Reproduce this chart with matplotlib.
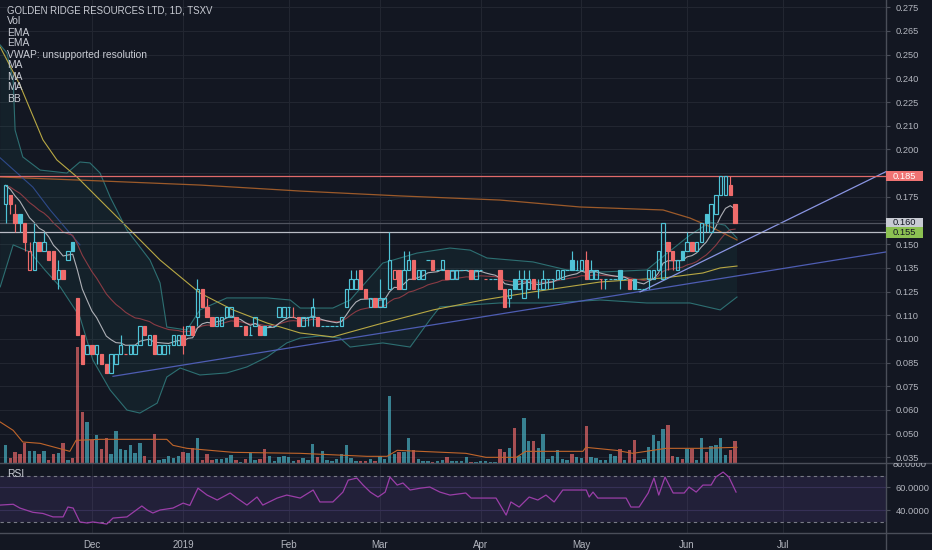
import numpy as np
import pandas as pd
import matplotlib
matplotlib.use("Agg")
import matplotlib.pyplot as plt
from matplotlib.colors import to_rgba
from matplotlib.lines import Line2D
from matplotlib.patches import Rectangle
from matplotlib.transforms import Bbox, TransformedBbox, blended_transform_factory

plt.rcParams["font.family"] = ["Liberation Sans", "DejaVu Sans"]

# daily bars, index 0 = 7 Nov 2018 (TSXV session days)
opens = [
    .170, .175, .165, .165, .160, .135, .135, .150, .145, .145,
    .145, .130, .135, .140, .150, .120, .100, .090, .095, .090,
    .090, .085, .080, .085, .090, .090, .090, .090, .095, .105,
    .095, .100, .090, .090, .095, .095, .095, .100, .100, .105,
    .110, .125, .115, .110, .105, .105, .110, .110, .110, .105,
    .105, .100, .105, .105, .105, .105, .105, .110, .110, .115,
    .110, .110, .105, .110, .110, .110, .105, .105, .105, .105,
    .105, .115, .125, .125, .135, .125, .115, .120, .115, .115,
    .125, .130, .135, .125, .135, .140, .130, .130, .140, .140,
    .135, .135, .135, .130, .130, .135, .135, .135, .130, .135,
    .130, .130, .130, .135, .125, .120, .130, .125, .120, .125,
    .130, .125, .125, .130, .130, .130, .130, .135, .140, .135,
    .135, .140, .130, .130, .130, .130, .130, .130, .135, .130,
    .130, .130, .125, .125, .130, .130, .135, .130, .150, .145,
    .135, .145, .145, .150, .145, .150, .165, .155, .165, .175,
    .175, .180, .170,
]
highs = [
    .180, .175, .170, .165, .160, .150, .160, .150, .155, .145,
    .145, .140, .135, .145, .150, .120, .100, .095, .095, .095,
    .090, .085, .090, .090, .100, .090, .095, .095, .105, .105,
    .100, .100, .095, .095, .095, .100, .100, .105, .105, .105,
    .130, .125, .120, .110, .110, .110, .115, .115, .110, .105,
    .105, .105, .110, .105, .105, .105, .105, .115, .115, .115,
    .115, .110, .110, .110, .120, .110, .105, .105, .105, .105,
    .110, .125, .135, .135, .135, .125, .120, .120, .130, .120,
    .155, .135, .135, .145, .145, .140, .135, .135, .140, .140,
    .135, .140, .135, .135, .135, .135, .135, .135, .135, .135,
    .130, .130, .130, .135, .125, .125, .130, .135, .135, .135,
    .130, .130, .135, .130, .130, .135, .135, .135, .145, .140,
    .140, .145, .140, .135, .130, .130, .130, .130, .135, .130,
    .130, .130, .125, .125, .135, .135, .145, .160, .150, .145,
    .140, .145, .155, .150, .150, .160, .165, .170, .175, .185,
    .185, .185, .170,
]
lows = [
    .160, .165, .155, .155, .145, .135, .135, .145, .145, .140,
    .130, .125, .130, .140, .145, .100, .085, .090, .090, .085,
    .085, .080, .080, .085, .090, .090, .090, .090, .095, .100,
    .095, .090, .090, .090, .090, .095, .095, .090, .100, .100,
    .105, .115, .110, .105, .105, .105, .110, .110, .105, .105,
    .100, .100, .105, .100, .100, .105, .105, .110, .110, .110,
    .110, .105, .105, .105, .105, .105, .105, .105, .105, .105,
    .105, .115, .125, .125, .125, .120, .115, .115, .115, .115,
    .125, .130, .125, .125, .135, .130, .130, .130, .140, .135,
    .135, .135, .130, .130, .130, .135, .135, .130, .130, .135,
    .130, .130, .130, .125, .115, .115, .125, .125, .120, .125,
    .125, .120, .125, .125, .125, .130, .130, .135, .135, .135,
    .135, .130, .130, .130, .125, .125, .130, .130, .125, .130,
    .125, .125, .125, .125, .125, .130, .135, .130, .135, .135,
    .135, .140, .145, .145, .145, .150, .155, .155, .165, .175,
    .175, .175, .160,
]
closes = [
    .180, .170, .160, .160, .150, .145, .150, .145, .150, .140,
    .130, .135, .130, .145, .145, .100, .085, .095, .090, .095,
    .085, .080, .090, .090, .095, .090, .095, .095, .105, .100,
    .100, .090, .095, .095, .095, .100, .100, .095, .105, .100,
    .125, .115, .110, .105, .110, .110, .115, .115, .105, .105,
    .100, .100, .110, .100, .100, .105, .105, .115, .115, .115,
    .110, .105, .110, .110, .115, .105, .105, .105, .105, .105,
    .110, .125, .130, .130, .125, .120, .120, .115, .120, .120,
    .140, .135, .125, .135, .140, .130, .135, .135, .140, .135,
    .135, .140, .130, .135, .135, .135, .135, .130, .135, .135,
    .130, .130, .130, .125, .115, .125, .125, .130, .130, .130,
    .125, .125, .130, .130, .130, .135, .135, .135, .135, .135,
    .140, .130, .135, .135, .130, .130, .130, .130, .130, .130,
    .125, .125, .125, .125, .135, .135, .145, .160, .145, .140,
    .140, .140, .150, .145, .150, .160, .160, .170, .175, .185,
    .185, .175, .160,
]
volume = [
    53, 16, 33, 28, 60, 36, 36, 28, 36, 10,
    26, 30, 60, 10, 16, 348, 153, 123, 70, 83,
    43, 76, 28, 96, 43, 38, 55, 30, 60, 20,
    10, 86, 8, 13, 20, 16, 20, 33, 30, 45,
    76, 10, 26, 8, 13, 11, 16, 23, 8, 3,
    13, 31, 8, 13, 43, 20, 5, 18, 21, 18,
    5, 8, 16, 8, 56, 18, 35, 8, 5, 13,
    28, 53, 16, 6, 5, 5, 13, 5, 20, 12,
    200, 28, 32, 32, 76, 38, 13, 6, 6, 3,
    6, 10, 18, 6, 6, 6, 18, 4, 3, 5,
    5, 3, 3, 43, 33, 45, 105, 20, 135, 65,
    65, 45, 86, 13, 20, 38, 13, 10, 26, 18,
    15, 110, 18, 16, 8, 10, 26, 20, 43, 10,
    38, 68, 8, 13, 48, 85, 66, 101, 114, 20,
    18, 11, 43, 41, 10, 75, 33, 50, 55, 76,
    23, 40, 66,
]

# first session of each month (bar index) and the labels
month_pos = [18, 37, 59, 78, 99, 120, 142, 162]
month_labels = ["Dec", "2019", "Feb", "Mar", "Apr", "May", "Jun", "Jul"]

price_tick_labels = ["0.275", "0.265", "0.250", "0.240", "0.225", "0.210", "0.200",
                     "0.185", "0.175", "0.160", "0.150", "0.135", "0.125", "0.110",
                     "0.100", "0.085", "0.075", "0.060", "0.050", "0.035"]

# indicator lines: (bar index, value)
ma_yellow_x = [-1.1, 3.0, 7.8, 10.7, 14.9, 19.7, 26.6, 32.2, 40.5, 47.4, 54.5, 61.4,
               68.2, 71.1, 78.6, 89.1, 99.5, 109.9, 123.9, 130.1, 137.0, 145.3, 148.9, 152.4]
ma_yellow = [.2538, .2336, .2043, .1936, .1845, .1722, .1546, .1402, .1226, .1136, .1066, .1013,
             .0992, .1013, .1066, .1136, .1189, .1232, .1285, .1296, .1306, .1333, .1360, .1370]
ma_brown_x = [-1.1, 19.7, 40.5, 61.4, 82.2, 103.0, 119.7, 137.0, 142.6, 147.4, 152.4]
ma_brown = [.1845, .1824, .1802, .1770, .1744, .1722, .1685, .1669, .1626, .1573, .1509]
ma_blue_x = [-1.1, 5.7, 9.3, 15.5]
ma_blue = [.1947, .1791, .1669, .1483]

bb_up_x = [-1.1, 0.3, 1.6, 2.0, 3.6, 7.2, 12.8, 15.5, 17.6, 19.7, 21.8, 25.3, 30.1, 32.2,
           33.6, 37.8, 40.5, 46.1, 54.5, 59.3, 61.4, 68.2, 71.8, 78.6, 85.7, 92.6, 96.8,
           100.3, 109.9, 117.0, 123.9, 133.6, 137.4, 142.6, 146.8, 149.9, 152.4]
bb_up = [.2549, .2506, .2362, .2095, .1952, .1882, .1866, .1925, .1920, .1866, .1738, .1562,
         .1402, .1280, .1045, .1029, .1136, .1200, .1200, .1189, .1146, .1146, .1189, .1386,
         .1439, .1466, .1455, .1413, .1392, .1349, .1338, .1349, .1429, .1535, .1604, .1588, .1519]
bb_lo_x = [-1.1, 1.6, 5.1, 8.2, 11.4, 15.5, 18.2, 21.8, 25.3, 28.0, 31.6, 33.6, 36.4, 40.5,
           46.1, 50.3, 54.5, 58.6, 61.4, 65.5, 69.7, 71.8, 78.6, 84.3, 88.4, 90.5, 103.0,
           113.4, 123.9, 133.6, 142.6, 148.9, 152.4]
bb_lo = [.1259, .1483, .1445, .1349, .1259, .1099, .0869, .0709, .0602, .0586, .0639, .0778,
         .0826, .0789, .0800, .0832, .0885, .0960, .0986, .0997, .0986, .0938, .0960, .0938,
         .1083, .1152, .1173, .1173, .1189, .1173, .1173, .1136, .1205]

vol_ma_x = [-1.1, 1.6, 3.6, 7.2, 13.4, 14.7, 19.7, 33.6, 34.9, 37.8, 47.4, 61.4, 75.3, 79.5,
            81.6, 95.9, 100.1, 106.4, 108.4, 120.3, 120.9, 127.2, 130.7, 137.6, 144.5, 152.4]
vol_ma = [123, 98, 63, 59, 35, 68, 71, 71, 53, 44, 32, 29, 20, 20,
          38, 29, 17, 17, 35, 35, 47, 38, 29, 44, 44, 47]

rsi_x = [-1.1, 1.6, 3.0, 5.7, 7.8, 9.9, 12.0, 13.0, 14.1, 15.5, 17.0, 18.2, 19.7, 21.1, 22.4,
         25.3, 26.6, 28.4, 29.5, 30.7, 32.2, 34.9, 37.0, 38.4, 40.1, 42.0, 44.1, 46.8, 48.2,
         50.3, 52.4, 53.6, 56.6, 58.6, 61.4, 64.1, 65.5, 68.2, 70.3, 71.4, 73.2, 74.5, 76.0,
         77.6, 79.1, 80.1, 81.6, 82.8, 84.3, 86.4, 88.4, 90.5, 92.6, 95.9, 97.0, 102.2, 104.3,
         105.3, 107.0, 109.1, 110.9, 112.6, 114.3, 116.1, 118.9, 121.0, 121.6, 122.4, 123.4,
         129.3, 130.3, 132.0, 133.9, 135.1, 136.1, 137.4, 139.1, 141.4, 142.4, 143.9, 145.3,
         147.0, 148.0, 149.5, 150.7, 152.2]
rsi = [44.3, 45.0, 41.7, 38.0, 37.0, 34.0, 34.0, 42.6, 41.7, 29.6, 28.7, 29.6, 28.7, 27.8, 33.0,
       34.0, 38.0, 43.5, 40.0, 37.4, 40.0, 41.7, 46.0, 44.0, 59.0, 53.0, 48.7, 54.8, 50.4,
       44.3, 51.3, 44.3, 50.4, 53.0, 50.4, 57.4, 47.0, 47.0, 55.6, 66.0, 67.8, 61.7, 55.6,
       51.3, 55.6, 68.7, 61.7, 63.5, 57.4, 59.0, 60.0, 55.6, 53.0, 54.8, 50.4, 50.4, 35.6,
       47.0, 42.6, 51.3, 48.7, 53.0, 47.0, 57.4, 57.4, 57.4, 51.3, 55.6, 50.4,
       50.4, 42.6, 42.6, 54.8, 67.8, 53.0, 68.7, 54.8, 54.8, 60.0, 55.6, 61.7,
       61.7, 68.7, 73.0, 68.7, 55.6]

# drawn horizontal levels and trend lines
levels = [0.185, 0.160, 0.155]
trend_a = ([22.4, 183.4], [0.0782, 0.1445])
trend_b = ([132.2, 183.4], [0.1232, 0.1873])

BG = "#131722"
GRID = "#222631"
TXT = "#b2b5be"
SEP = "#4a4e59"
UP = "#4fc3d6"
DOWN = "#ef6b6b"

W, H = 932, 550
SCALE_X = 886
Y_LO, Y_HI = 0.03196, 0.27889

fig = plt.figure(figsize=(W / 100, H / 100), dpi=100, facecolor=BG)
main_rect = [0, 87 / H, SCALE_X / W, 463 / H]
rsi_rect = [0, 17 / H, SCALE_X / W, 70 / H]

gax = fig.add_axes(main_rect)
vax = fig.add_axes(main_rect, sharex=gax)
ax = fig.add_axes(main_rect, sharex=gax, sharey=gax)
rax = fig.add_axes(rsi_rect, sharex=gax)
gax.set_zorder(0)
vax.set_zorder(1)
ax.set_zorder(2)
rax.set_zorder(1)
gax.axis("off")
vax.axis("off")
ax.patch.set_visible(False)
rax.patch.set_visible(False)

x = np.arange(len(closes))
o = np.array(opens)
h = np.array(highs)
l = np.array(lows)
c = np.array(closes)

ax.set_xlim(-1.146, 183.44)
ax.set_ylim(Y_LO, Y_HI)
price_ticks = np.linspace(0.275, 0.035, len(price_tick_labels))

# grid
for p in price_ticks:
    gax.axhline(p, color=GRID, lw=0.8)
for m in month_pos:
    gax.axvline(m, color=GRID, lw=0.8)
    rax.axvline(m, color=GRID, lw=0.8, zorder=0)
for r in (60, 40):
    rax.axhline(r, color="#2a2a44", lw=0.8, zorder=0)

# volume
vol_cols = [to_rgba(DOWN, 0.68) if cc < oo else to_rgba(UP, 0.62) for oo, cc in zip(o, c)]
vax.bar(x, volume, width=0.74, color=vol_cols, linewidth=0)
vax.plot(vol_ma_x, vol_ma, color="#c0652b", lw=0.8)
vax.set_ylim(0, 463 * 3)

# bollinger band area and indicator lines
ax.fill(np.r_[bb_up_x, bb_lo_x[::-1]], np.r_[bb_up, bb_lo[::-1]],
        color="#26a69a", alpha=0.07, lw=0, zorder=1)
ax.plot(bb_up_x, bb_up, color="#2d6f72", lw=0.8, zorder=2)
ax.plot(bb_lo_x, bb_lo, color="#2d6f72", lw=0.8, zorder=2)
ax.plot(ma_brown_x, ma_brown, color="#9c5a2a", lw=0.9, zorder=2)
ax.plot(ma_yellow_x, ma_yellow, color="#b8a844", lw=0.8, zorder=2)
ax.plot(ma_blue_x, ma_blue, color="#2e4a8a", lw=0.8, zorder=2)

close_s = pd.Series(closes)
ax.plot(x, close_s.ewm(span=21, adjust=False).mean(), color="#8a3b44", lw=0.8, zorder=2)
ax.plot(x, close_s.ewm(span=9, adjust=False).mean(), color="#c9c9cf", lw=0.8, alpha=0.85, zorder=3)

# trend lines and levels
ax.plot(*trend_a, color="#4e5db3", lw=0.9, zorder=3)
ax.plot(*trend_b, color="#8a95e2", lw=0.9, zorder=3)
ax.axhline(levels[0], color="#e06a6a", lw=0.9, zorder=3)
ax.axhline(levels[1], color="#50545f", lw=0.9, zorder=3)
ax.axhline(levels[2], color="#b9bcc5", lw=0.9, zorder=3)

# hollow candles
prev_c = np.r_[o[0], c[:-1]]
ccol = [UP if cc >= pc else DOWN for cc, pc in zip(c, prev_c)]
face = [to_rgba(col) if cc < oo else (0, 0, 0, 0) for col, oo, cc in zip(ccol, o, c)]
top = np.maximum(o, c)
bot = np.minimum(o, c)
ax.vlines(x, top, h, colors=ccol, lw=0.85, zorder=4)
ax.vlines(x, l, bot, colors=ccol, lw=0.85, zorder=4)
ax.bar(x, top - bot, bottom=bot, width=0.74, color=face, edgecolor=ccol,
       linewidth=0.85, zorder=5)

# price scale
ax.yaxis.tick_right()
ax.set_yticks(price_ticks, price_tick_labels)
ax.tick_params(axis="y", colors=TXT, labelsize=6.7, length=3, pad=4, color=SEP)
ax.tick_params(axis="x", bottom=False, labelbottom=False)
for s in ax.spines.values():
    s.set_visible(False)

trans = blended_transform_factory(ax.transAxes, ax.transData)
box_h = 10.5 * (Y_HI - Y_LO) / 463
for val, txt, fc, tc in [(0.185, "0.185", "#f07373", "#ffffff"),
                         (0.160, "0.160", "#c8cbd3", "#131722"),
                         (0.155, "0.155", "#8cc152", "#131722")]:
    ax.add_patch(Rectangle((1.0, val - box_h / 2), 37 / SCALE_X, box_h, transform=trans,
                           clip_on=False, facecolor=fc, edgecolor="none", zorder=6))
    ax.text(1.0 + 7 / SCALE_X, val, txt, transform=trans, color=tc, fontsize=6.7,
            va="center", ha="left", zorder=7, clip_on=False)

# RSI pane
rax.set_ylim(20, 80.9)
rax.axhspan(30, 70, color="#7e57c2", alpha=0.15, lw=0, zorder=0)
rax.axhline(70, color="#787b86", lw=0.8, ls=(0, (3, 3)), zorder=1)
rax.axhline(30, color="#787b86", lw=0.8, ls=(0, (3, 3)), zorder=1)
rax.plot(rsi_x, rsi, color="#9b3ea8", lw=0.9, zorder=2)
rax.yaxis.tick_right()
rax.set_yticks([40, 60], ["40.0000", "60.0000"])
rax.tick_params(axis="y", colors=TXT, labelsize=6.7, length=3, pad=4, color=SEP)
rax.set_xticks(month_pos, month_labels)
rax.tick_params(axis="x", colors=TXT, labelsize=7, length=0, pad=5)
for s in rax.spines.values():
    s.set_visible(False)

t80 = fig.text((SCALE_X + 7) / W, 80, "80.0000", color=TXT, fontsize=6.7, va="center",
               transform=blended_transform_factory(fig.transFigure, rax.transData))
t80.set_clip_box(TransformedBbox(Bbox([[0, 0], [1, 87 / H]]), fig.transFigure))

# pane separators and scale border
fig.add_artist(Line2D([0, 1], [87 / H, 87 / H], transform=fig.transFigure, color=SEP, lw=1))
fig.add_artist(Line2D([0, 1], [17 / H, 17 / H], transform=fig.transFigure, color=SEP, lw=1))
fig.add_artist(Line2D([SCALE_X / W] * 2, [0, 1], transform=fig.transFigure, color=SEP, lw=1))

# legend block
legend_lines = ["GOLDEN RIDGE RESOURCES LTD, 1D, TSXV", "Vol", "EMA", "EMA",
                "VWAP: unsupported resolution", "MA", "MA", "MA", "BB"]
for k, s in enumerate(legend_lines):
    fig.text(7 / W, 1 - (10.5 + 11 * k) / H, s, color="#c9ccd4",
             fontsize=6.9 if k == 0 else 7.4, va="center")
fig.text(7 / W, 1 - 474 / H, "RSI", color="#c9ccd4", fontsize=7.4, va="center")

fig.savefig("out.png", dpi=100, facecolor=BG)
